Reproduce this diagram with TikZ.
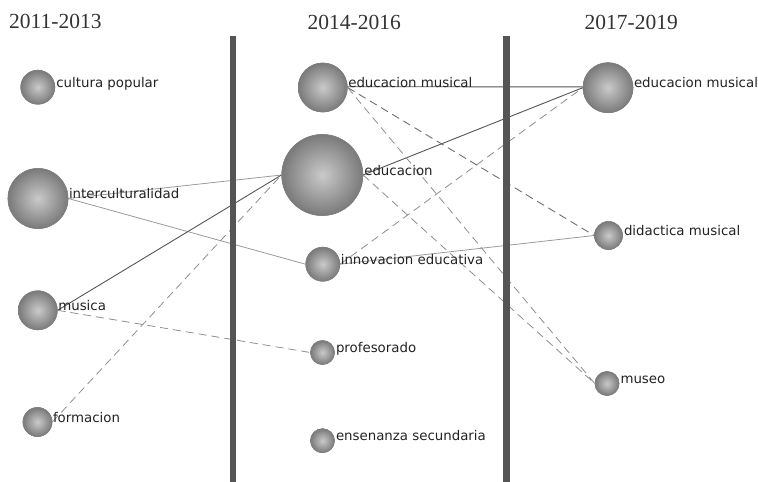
\documentclass[tikz,border=0pt]{standalone}
\usepackage{fontspec}
\setmainfont{DejaVu Sans}
\newfontfamily\titlefont{Liberation Serif}
\definecolor{barcol}{HTML}{555555}
\definecolor{darkline}{HTML}{555555}
\definecolor{lightline}{HTML}{9A9A9A}
\definecolor{dashline}{HTML}{8E8E8E}
\definecolor{ballin}{HTML}{CACACA}
\definecolor{ballout}{HTML}{7A7A7A}
\definecolor{ballrim}{HTML}{808080}
\definecolor{labcol}{HTML}{222222}
\definecolor{titlecol}{HTML}{333333}
\begin{document}
\begin{tikzpicture}[x=1pt,y=-1pt,
  bubble/.style={circle, inner sep=0pt, minimum size=#1, draw=ballrim, line width=0.6pt,
    inner color=ballin, outer color=ballout},
  lab/.style={anchor=base west, inner sep=0pt, font=\fontsize{13.35}{15}\selectfont, text=labcol},
  ttl/.style={anchor=base west, inner sep=0pt, font=\titlefont\fontsize{21.5}{24}\selectfont, text=titlecol},
  solidDark/.style={draw=darkline, line width=0.9pt},
  solidLight/.style={draw=lightline, line width=0.8pt},
  dashDark/.style={draw=darkline!85, line width=0.9pt, dash pattern=on 8pt off 5pt},
  dashLight/.style={draw=dashline, line width=0.8pt, dash pattern=on 8pt off 5pt},
  bar/.style={fill=barcol, draw=none}
]
\useasboundingbox (0,0) rectangle (758,482);

% titles
\node[ttl] (t1) at (9,28.5) {2011-2013};
\node[ttl] (t2) at (307.5,29) {2014-2016};
\node[ttl] (t3) at (584.5,29.3) {2017-2019};

% nodes (placed first so edges can refer to them; drawn on top below)
\path
  (37.8,87.2)  node[bubble=34pt]   (cp)   {}
  (38,198.5)   node[bubble=60pt]   (inter){}
  (37.8,310.3) node[bubble=39pt]   (mus)  {}
  (37.5,422)   node[bubble=29pt]   (form) {}
  (322.8,87.5) node[bubble=49pt]   (em)   {}
  (322.3,175)  node[bubble=81pt]   (edu)  {}
  (322.8,264.2) node[bubble=34pt]  (inn)  {}
  (322.5,352.5) node[bubble=24pt]  (prof) {}
  (322.5,440.7) node[bubble=24pt]  (ens)  {}
  (608,87.7)   node[bubble=50pt]   (emr)  {}
  (608.5,235.5) node[bubble=28pt]  (did)  {}
  (607,383.5)  node[bubble=24pt]   (mso)  {};

% connectors
\draw[solidLight] (inter.east) -- (edu.west);
\draw[solidLight] (inter.east) -- (inn.west);
\draw[solidDark]  (mus.east) -- (edu.west);
\draw[dashLight]  (mus.east) -- (prof.west);
\draw[dashLight]  (form.east) -- (edu.west);
\draw[solidDark]  ([yshift=0.8pt]em.east) -- ([yshift=0.8pt]emr.west);
\draw[solidDark]  (edu.east) -- (emr.west);
\draw[dashLight]  (inn.east) -- (emr.west);
\draw[solidLight] (inn.east) -- (did.west);
\draw[dashDark]   (em.east) -- (did.west);
\draw[dashLight]  (em.east) -- (mso.west);
\draw[dashLight]  (edu.east) -- (mso.west);

% vertical separators
\fill[bar] (229.5,36) rectangle (236,482);
\fill[bar] (503.3,36) rectangle (510.2,482);

% redraw bubbles on top
\path
  (37.8,87.2)  node[bubble=34pt]   {}
  (38,198.5)   node[bubble=60pt]   {}
  (37.8,310.3) node[bubble=39pt]   {}
  (37.5,422)   node[bubble=29pt]   {}
  (322.8,87.5) node[bubble=49pt]   {}
  (322.3,175)  node[bubble=81pt]   {}
  (322.8,264.2) node[bubble=34pt]  {}
  (322.5,352.5) node[bubble=24pt]  {}
  (322.5,440.7) node[bubble=24pt]  {}
  (608,87.7)   node[bubble=50pt]   {}
  (608.5,235.5) node[bubble=28pt]  {}
  (607,383.5)  node[bubble=24pt]   {};

% labels
\node[lab] (cpL)    at ([xshift=1pt]cp.east)    {cultura popular};
\node[lab] (interL) at ([xshift=0.5pt]inter.east) {interculturalidad};
\node[lab] (musL)   at ([xshift=0.5pt]mus.east)   {musica};
\node[lab] (formL)  at ([xshift=0.5pt]form.east)  {formacion};
\node[lab] (emL)    at ([xshift=0.5pt]em.east)    {educacion musical};
\node[lab] (eduL)   at ([xshift=1pt]edu.east)   {educacion};
\node[lab] (innL)   at ([xshift=0.5pt]inn.east)   {innovacion educativa};
\node[lab] (profL)  at ([xshift=1pt]prof.east)  {profesorado};
\node[lab] (ensL)   at ([xshift=1pt]ens.east)   {ensenanza secundaria};
\node[lab] (emrL)   at ([xshift=0.5pt]emr.east)   {educacion musical};
\node[lab] (didL)   at ([xshift=1pt]did.east)   {didactica musical};
\node[lab] (msoL)   at ([xshift=1pt]mso.east)   {museo};
\end{tikzpicture}
\end{document}
